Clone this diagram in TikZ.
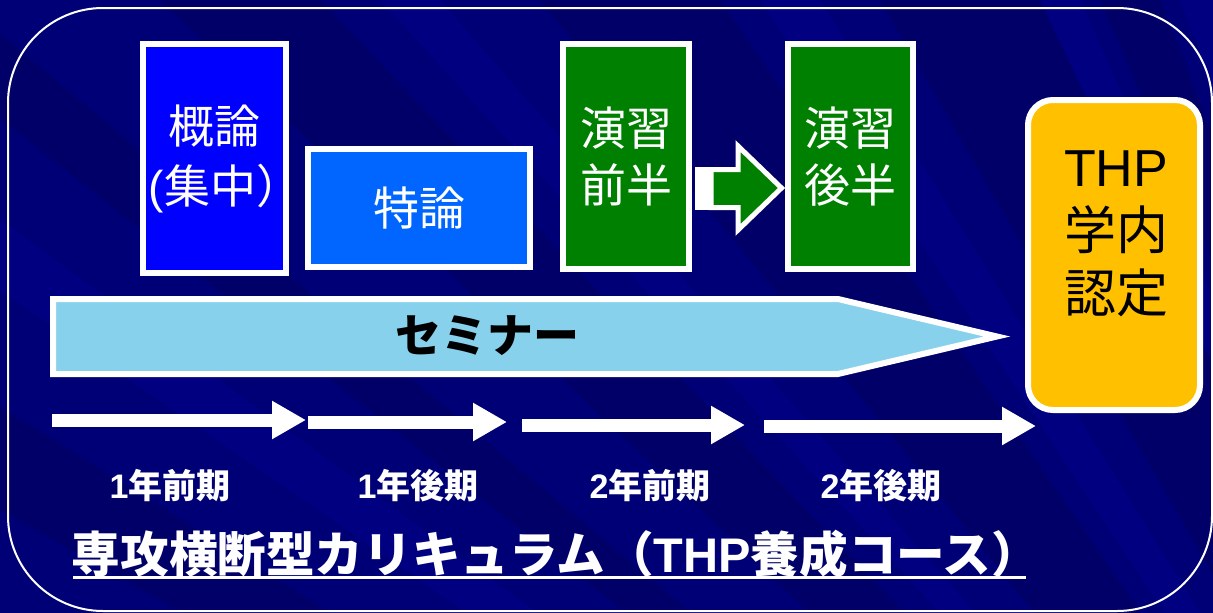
\documentclass[tikz,border=0pt]{standalone}
\usepackage{fontspec}
\setmainfont{Noto Sans CJK JP}
\newfontfamily\lat{Liberation Sans}
\usetikzlibrary{arrows.meta}
\definecolor{bgnavy}{RGB}{0,0,118}
\definecolor{stripedark}{RGB}{0,0,80}
\definecolor{stripelight}{RGB}{0,0,160}
\definecolor{kblue}{RGB}{0,0,255}
\definecolor{tblue}{RGB}{0,102,255}
\definecolor{egreen}{RGB}{0,128,0}
\definecolor{thpgold}{RGB}{255,192,0}
\definecolor{semblue}{RGB}{135,209,236}
\newcommand\bxfont{\fontsize{46pt}{60pt}\selectfont}
\newcommand\exfont{\fontsize{46pt}{57pt}\selectfont}
\newcommand\thfont{\fontsize{52pt}{63pt}\selectfont}
\newcommand\lbfont{\fontsize{34pt}{40pt}\selectfont\bfseries}
\newcommand\ttlfont{\fontsize{48.6pt}{56pt}\selectfont\bfseries}
\tikzset{
  dk/.style={fill=stripedark, opacity=0.35},
  lt/.style={fill=stripelight, opacity=0.25},
  box/.style={draw=white, line width=6pt, text=white, align=center, inner sep=0pt, font=\bxfont},
  tl/.style={white, line width=13pt, -{Triangle[length=34pt,width=36pt]}},
  lbl/.style={text=white, font=\lbfont, inner sep=0pt}
}
\begin{document}
\begin{tikzpicture}[x=1pt,y=-1pt]
\useasboundingbox (0,0) rectangle (1213,613);
\fill[bgnavy] (0,0) rectangle (1213,613);
% background stripes radiating from lower right
\begin{scope}
\clip (0,0) rectangle (1213,613);
\coordinate (F) at (1750,1500);
\fill[dk] (F) -- (-900,0) -- (-650,0) -- cycle;
\fill[lt] (F) -- (-420,0) -- (-300,0) -- cycle;
\fill[dk] (F) -- (-150,0) -- (-40,0) -- cycle;
\fill[dk] (F) -- (160,0) -- (320,0) -- cycle;
\fill[lt] (F) -- (380,0) -- (440,0) -- cycle;
\fill[dk] (F) -- (540,0) -- (720,0) -- cycle;
\fill[lt] (F) -- (760,0) -- (820,0) -- cycle;
\fill[dk] (F) -- (880,0) -- (1040,0) -- cycle;
\fill[lt] (F) -- (1040,0) -- (1080,0) -- cycle;
\fill[dk] (F) -- (1100,0) -- (1160,0) -- cycle;
\fill[lt] (F) -- (1180,0) -- (1260,0) -- cycle;
\end{scope}
% outer frame
\draw[white, line width=2pt, rounded corners=95pt] (8,8) rectangle (1212,611);
% boxes
\node[box, fill=kblue, minimum width=143pt, minimum height=229pt] (gairon) at (214.5,158.5) {概論\\\makebox[0pt]{\hspace{22pt}{\lat(}集中）}};
\node[box, fill=tblue, minimum width=222pt, minimum height=118pt] (tokuron) at (419,208) {特論};
\node[box, fill=egreen, font=\exfont, minimum width=126pt, minimum height=225pt] (ensyu1) at (626,156.5) {演習\\前半};
\node[box, fill=egreen, font=\exfont, minimum width=125pt, minimum height=225pt] (ensyu2) at (850.5,156.5) {演習\\後半};
% block arrow between exercises
\fill[white] (695,167) rectangle (713,210);
\draw[white, line width=5pt, fill=egreen, line join=miter] (711,169.5) -- (738,169.5) -- (738,146) -- (781.5,188) -- (738,230) -- (738,207.5) -- (711,207.5) -- cycle;
% THP box
\node[draw=white, line width=6pt, fill=thpgold, rounded corners=25pt, minimum width=172pt, minimum height=310pt] (thp) at (1114,255) {};
\node[align=center, text=black, font=\thfont, inner sep=0pt] (thptext) at (1116,234) {{\lat THP}\\学内\\認定};
% seminar arrow
\draw[white, line width=6pt, fill=semblue, line join=miter] (53,299) -- (838,299) -- (997,336.5) -- (838,374) -- (53,374) -- cycle;
\node[text=black, font=\fontsize{46pt}{55pt}\selectfont\bfseries, inner sep=0pt] (sem) at (487,336) {セミナー};
% timeline
\coordinate (t1s) at (52,420); \coordinate (t1e) at (306,420);
\coordinate (t2s) at (308,422); \coordinate (t2e) at (507,422);
\coordinate (t3s) at (522,425); \coordinate (t3e) at (745,425);
\coordinate (t4s) at (764,426); \coordinate (t4e) at (1036,426);
\draw[tl] (t1s) -- (t1e);
\draw[tl] (t2s) -- (t2e);
\draw[tl] (t3s) -- (t3e);
\draw[tl] (t4s) -- (t4e);
\node[lbl] (p1) at (170,486) {{\lat 1}年前期};
\node[lbl] (p2) at (418,486) {{\lat 1}年後期};
\node[lbl] (p3) at (650,486) {{\lat 2}年前期};
\node[lbl] (p4) at (881,486) {{\lat 2}年後期};
% title
\node[text=white, font=\ttlfont, inner sep=0pt] (title) at (556,554) {専攻横断型カリキュラム（{\lat THP}養成コース）};
\coordinate (ul1) at (73,577); \coordinate (ul2) at (1026,577);
\draw[white, line width=3pt] (ul1) -- (ul2);
\end{tikzpicture}
\end{document}
